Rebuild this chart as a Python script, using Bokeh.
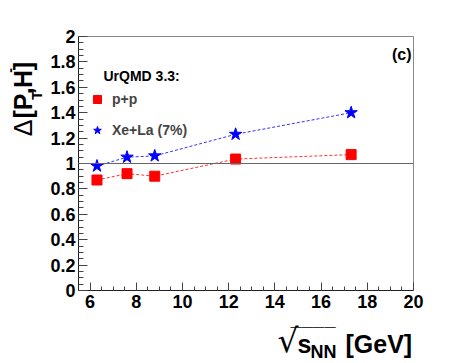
import math
from bokeh.plotting import figure
from bokeh.layouts import row, column
from bokeh.models import (Range1d, SingleIntervalTicker, Span, Label, Legend, LegendItem)
from bokeh.embed import file_html
from bokeh.resources import INLINE

# ---- data ----
energies = [6.3, 7.6, 8.8, 12.3, 17.3]
pp_values = [0.87, 0.92, 0.90, 1.035, 1.07]
xela_values = [0.98, 1.05, 1.06, 1.23, 1.40]
series_names = ["p+p", "Xe+La (7%)"]
y_ticks = [0, 0.2, 0.4, 0.6, 0.8, 1, 1.2, 1.4, 1.6, 1.8, 2]

XMIN, XMAX, YMIN, YMAX = 5.5, 20.0, 0.0, 2.0
W, H = 458, 362          # whole page area
YLW = 44                 # width of the y-title strip
MH = 316                 # height of the main figure
FL, FR, FT, FB = 78, 413, 36, 290   # frame edges in page pixels
FONT = "Liberation Sans"

p = figure(width=W - YLW, height=MH, output_backend="svg", toolbar_location=None,
           x_range=Range1d(XMIN, XMAX), y_range=Range1d(YMIN, YMAX),
           min_border_left=FL - YLW, min_border_right=W - FR,
           min_border_top=FT, min_border_bottom=MH - FB)
p.xgrid.visible = False
p.ygrid.visible = False
p.outline_line_color = "#888888"
p.background_fill_color = "white"
p.border_fill_color = "white"

def X(px):
    return XMIN + (px - FL) * (XMAX - XMIN) / (FR - FL)
def Y(py):
    return YMIN + (FB - py) * (YMAX - YMIN) / (FB - FT)

# axes
for ax in (p.xaxis[0], p.yaxis[0]):
    ax.major_label_text_font = FONT
    ax.major_label_text_font_style = "bold"
    ax.major_label_text_font_size = "18px"
    ax.major_label_text_color = "black"
    ax.major_tick_out = 0
    ax.minor_tick_out = 0
    ax.axis_line_color = "#222222"
    ax.major_tick_line_color = "#444444"
    ax.minor_tick_line_color = "#444444"

p.xaxis.ticker = SingleIntervalTicker(interval=2, num_minor_ticks=4)
p.xaxis.major_tick_in = 8
p.xaxis.minor_tick_in = 4
p.xaxis.major_label_standoff = 4
p.yaxis.ticker = SingleIntervalTicker(interval=0.2, num_minor_ticks=4)
p.yaxis.major_tick_in = 9
p.yaxis.minor_tick_in = 5
p.yaxis.major_label_standoff = 3
p.yaxis.major_label_overrides = {v: (str(v) if v not in (0, 1, 2) else str(int(v))) for v in y_ticks}

# reference line
p.add_layout(Span(location=1.0, dimension="width", line_color="#666666", line_width=1))

# series
p.line(energies, pp_values, line_color="red", line_dash="3 2", line_width=1, line_alpha=0.8)
p.line(energies, xela_values, line_color="blue", line_dash="3 2", line_width=1, line_alpha=0.8)
r_pp = p.scatter(energies, pp_values, marker="square", size=10, color="red")
r_xe = p.scatter(energies, xela_values, marker="star", size=13, color="blue")

legend = Legend(items=[LegendItem(label=series_names[0], renderers=[r_pp]),
                       LegendItem(label=series_names[1], renderers=[r_xe])],
                location=(9, 150), padding=0, margin=0, spacing=11,
                glyph_width=20, glyph_height=20, label_height=20, label_standoff=5,
                label_text_font=FONT, label_text_font_style="bold", label_text_font_size="14px",
                border_line_color=None, background_fill_alpha=0)
p.add_layout(legend)

def lab(fig, x, y, text, size, style="bold", align="left", baseline="alphabetic",
        angle=0.0, font=FONT):
    fig.add_layout(Label(x=x, y=y, text=text, text_font=font, text_font_size=f"{size}px",
                         text_font_style=style, text_align=align, text_baseline=baseline,
                         angle=angle, text_color="black"))

lab(p, X(103), Y(75), "UrQMD 3.3:", 14)
lab(p, X(411), Y(54), "(c)", 16, align="right", baseline="middle")

def strip(w, h, x0, y0):
    f = figure(width=w, height=h, output_backend="svg", toolbar_location=None,
               x_range=Range1d(x0, x0 + w), y_range=Range1d(y0 + h, y0),
               x_axis_location=None, y_axis_location=None,
               min_border_left=0, min_border_right=0, min_border_top=0, min_border_bottom=0)
    f.xgrid.visible = False
    f.ygrid.visible = False
    f.outline_line_color = None
    f.background_fill_color = "white"
    f.border_fill_color = "white"
    return f

# y-axis title strip: Delta[P_T, H^-]   (page pixel coordinates)
yl = strip(YLW, MH, 0, 0)
A = math.pi / 2
lab(yl, 22, 124, "\u0394", 25, style="normal", angle=A)
lab(yl, 22, 102, "[P", 25, angle=A)
lab(yl, 36, 79, "T", 15, angle=A)
lab(yl, 22, 72, ",", 25, angle=A)
lab(yl, 22, 64, "H", 25, angle=A)
lab(yl, 9, 45, "-", 14, angle=A)
lab(yl, 22, 42, "]", 25, angle=A)

# x-axis title strip: sqrt(s_NN) [GeV]
xl = strip(W, H - MH, 0, MH)
lab(xl, 277, 340, "\u221a", 33, style="normal", font="DejaVu Sans")
lab(xl, 290, 325, "\u2014\u2014\u2014\u2014", 11.3, style="normal")
lab(xl, 297, 343, "s", 25)
lab(xl, 310, 351, "NN", 18)
lab(xl, 345, 343, "[GeV]", 25)

layout = column(row(yl, p, spacing=0), xl, spacing=0)
open("out.html", "w").write(file_html(layout, INLINE))
